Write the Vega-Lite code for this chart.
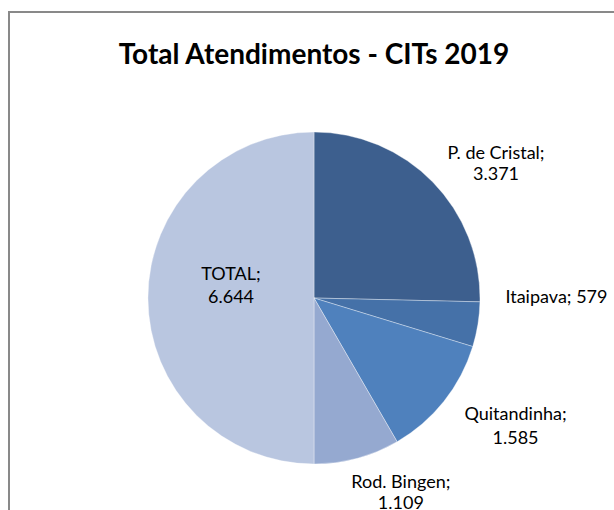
{
  "$schema": "https://vega.github.io/schema/vega-lite/v6.json",
  "width": 610,
  "height": 572,
  "autosize": {"type": "none"},
  "padding": {"left": 9, "top": 12, "right": 0, "bottom": 0},
  "background": "white",
  "view": {"stroke": "#898989", "strokeWidth": 2},
  "config": {"view": {"stroke": "#898989", "strokeWidth": 2}},
  "title": {"text": "Total Atendimentos - CITs 2019", "font": "Lato", "fontSize": 28, "fontWeight": "bold", "color": "#000000", "offset": -58, "anchor": "middle"},
  "data": {"values": [
    {"cat": "P. de Cristal", "value": 3371, "k": 1, "label": ["P. de Cristal;", "3.371"]},
    {"cat": "Itaipava", "value": 579, "k": 2, "label": ["Itaipava; 579"]},
    {"cat": "Quitandinha", "value": 1585, "k": 3, "label": ["Quitandinha;", "1.585"]},
    {"cat": "Rod. Bingen", "value": 1109, "k": 4, "label": ["Rod. Bingen;", "1.109"]},
    {"cat": "TOTAL", "value": 6644, "k": 5, "label": ["TOTAL;", "6.644"]}
  ]},
  "encoding": {
    "theta": {"field": "value", "type": "quantitative", "stack": true},
    "order": {"field": "k", "type": "quantitative"}
  },
  "layer": [
    {
      "mark": {"type": "arc", "outerRadius": 166, "stroke": "#ffffff", "strokeWidth": 0.7, "strokeOpacity": 0.5},
      "encoding": {
        "color": {"field": "cat", "type": "nominal", "legend": null,
          "scale": {"domain": ["P. de Cristal", "Itaipava", "Quitandinha", "Rod. Bingen", "TOTAL"],
                    "range": ["#3D5F8E", "#4571A8", "#4F81BD", "#95A9D0", "#B9C6E0"]}}
      }
    },
    {
      "mark": {"type": "text", "radius": 200, "font": "Lato", "fontSize": 18, "lineHeight": 21, "color": "#000000", "dx": 39, "dy": -4, "align": "center", "baseline": "middle"},
      "encoding": {"text": {"condition": {"test": "datum.cat === 'P. de Cristal'", "field": "label"}, "value": ""}}
    },
    {
      "mark": {"type": "text", "radius": 200, "font": "Lato", "fontSize": 18, "lineHeight": 21, "color": "#000000", "dx": -6, "dy": -32, "align": "left", "baseline": "middle"},
      "encoding": {"text": {"condition": {"test": "datum.cat === 'Itaipava'", "field": "label"}, "value": ""}}
    },
    {
      "mark": {"type": "text", "radius": 200, "font": "Lato", "fontSize": 18, "lineHeight": 24, "color": "#000000", "dx": 45, "dy": -7, "align": "center", "baseline": "middle"},
      "encoding": {"text": {"condition": {"test": "datum.cat === 'Quitandinha'", "field": "label"}, "value": ""}}
    },
    {
      "mark": {"type": "text", "radius": 200, "font": "Lato", "fontSize": 18, "lineHeight": 21, "color": "#000000", "dx": 35, "dy": -8, "align": "center", "baseline": "middle"},
      "encoding": {"text": {"condition": {"test": "datum.cat === 'Rod. Bingen'", "field": "label"}, "value": ""}}
    },
    {
      "mark": {"type": "text", "radius": 83, "font": "Lato", "fontSize": 18, "lineHeight": 23, "color": "#000000", "dx": 0, "dy": -23, "align": "center", "baseline": "middle"},
      "encoding": {"text": {"condition": {"test": "datum.cat === 'TOTAL'", "field": "label"}, "value": ""}}
    }
  ]
}
